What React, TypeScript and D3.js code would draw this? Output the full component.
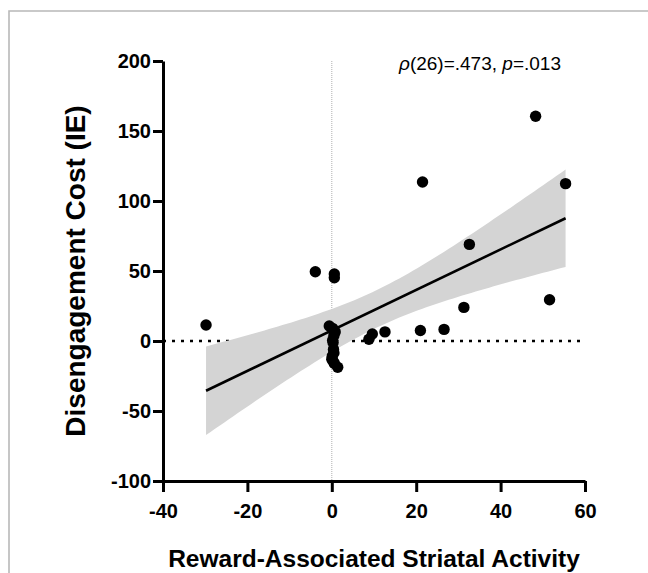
import React, { useEffect, useRef } from "react";
import * as d3 from "d3";

// striatal activity (x) and disengagement cost (y)
const striatal = [
  -29.8, -3.9, 0.6, 0.6, 21.5, 48.3, 55.4, 32.6, 51.6, 31.3, 26.6, 21, 12.6, 9.6, 8.8,
  -0.6, 0.2, 0.8, 0.5, 0.2, 0.3, 0.4, 0.5, 0.1, 0.0, 0.3, 0.6, 1.4,
];
const disengagement = [
  11.4, 49.5, 47.9, 45.2, 113.6, 160.5, 112.4, 69, 29.5, 24, 8.3, 7.5, 6.5, 5, 1.2,
  10.7, 9, 6.5, 4, 0.5, -1, -6, -8.5, -11, -13, -14.5, -16, -18.8,
];
const xTicks = [-40, -20, 0, 20, 40, 60];
const yTicks = [-100, -50, 0, 50, 100, 150, 200];
const tCrit = 2.056; // t(0.975, df=26)

const font = "'Liberation Sans', Arial, Helvetica, sans-serif";
const W = 648;
const H = 573;

function App() {
  const xAxisRef = useRef<SVGGElement>(null);
  const yAxisRef = useRef<SVGGElement>(null);

  const x = d3.scaleLinear().domain([-40, 60]).range([163, 585]);
  const y = d3.scaleLinear().domain([-100, 200]).range([481, 61]);

  const data = striatal.map((v, i) => [v, disengagement[i]]);
  const n = data.length;
  const mx = d3.mean(striatal) as number;
  const my = d3.mean(disengagement) as number;
  const sxx = d3.sum(striatal, (v) => (v - mx) ** 2);
  const sxy = d3.sum(data, (d) => (d[0] - mx) * (d[1] - my));
  const slope = sxy / sxx;
  const intercept = my - slope * mx;
  const sse = d3.sum(data, (d) => (d[1] - (intercept + slope * d[0])) ** 2);
  const s = Math.sqrt(sse / (n - 2));
  const [xmin, xmax] = d3.extent(striatal) as [number, number];

  const samples = d3.range(0, 81).map((i) => xmin + ((xmax - xmin) * i) / 80);
  const half = (v: number) => tCrit * s * Math.sqrt(1 / n + (v - mx) ** 2 / sxx);
  const band = d3
    .area<number>()
    .x((v) => x(v))
    .y0((v) => y(intercept + slope * v - half(v)))
    .y1((v) => y(intercept + slope * v + half(v)));

  useEffect(() => {
    const xa = d3.select(xAxisRef.current!);
    xa.call(
      d3
        .axisBottom(x)
        .tickValues(xTicks)
        .tickFormat((d) => String(d))
        .tickSize(11)
        .tickSizeOuter(0)
        .tickPadding(12)
    );
    const ya = d3.select(yAxisRef.current!);
    ya.call(
      d3
        .axisLeft(y)
        .tickValues(yTicks)
        .tickFormat((d) => String(d))
        .tickSize(10)
        .tickSizeOuter(0)
        .tickPadding(2)
    );
    [xa, ya].forEach((g) => {
      g.select(".domain").attr("stroke", "#000").attr("stroke-width", 3);
      g.selectAll(".tick line").attr("stroke", "#000").attr("stroke-width", 3);
      g.selectAll(".tick text")
        .attr("fill", "#000")
        .style("font-family", font)
        .style("font-size", "20px")
        .style("font-weight", "bold");
    });
  });

  return (
    <svg
      width={W}
      height={H}
      style={{ position: "absolute", left: 0, top: 0, background: "#fff" }}
    >
      <path d={`M9,${H}V11H${W}`} fill="none" stroke="#b8b8b8" strokeWidth={1.6} />

      <line
        x1={x(0)}
        x2={x(0)}
        y1={y(200)}
        y2={y(-100)}
        stroke="#b0b0b0"
        strokeWidth={1}
        strokeDasharray="1 1"
      />
      <line
        x1={x(-40)}
        x2={x(60)}
        y1={y(0)}
        y2={y(0)}
        stroke="#000"
        strokeWidth={2.6}
        strokeDasharray="3 6"
      />
      <path d={band(samples) ?? ""} fill="#d4d4d4" />
      <line
        x1={x(xmin)}
        x2={x(xmax)}
        y1={y(intercept + slope * xmin)}
        y2={y(intercept + slope * xmax)}
        stroke="#000"
        strokeWidth={2.6}
      />
      {data.map((d, i) => (
        <circle key={i} cx={x(d[0])} cy={y(d[1])} r={5.7} fill="#000" />
      ))}

      <g ref={xAxisRef} transform={`translate(0,${y(-100)})`} />
      <g ref={yAxisRef} transform={`translate(${x(-40)},0)`} />

      <text x={399} y={70} style={{ fontFamily: font, fontSize: "19px" }}>
        <tspan fontStyle="italic">ρ</tspan>(26)=.473, <tspan fontStyle="italic">p</tspan>=.013
      </text>
      <text
        transform={`translate(85,${y(50)}) rotate(-90)`}
        textAnchor="middle"
        style={{ fontFamily: font, fontSize: "28px", fontWeight: "bold" }}
      >
        Disengagement Cost (IE)
      </text>
      <text
        x={(x(-40) + x(60)) / 2}
        y={567}
        textAnchor="middle"
        style={{ fontFamily: font, fontSize: "24.5px", fontWeight: "bold" }}
      >
        Reward-Associated Striatal Activity
      </text>
    </svg>
  );
}

export default App;
